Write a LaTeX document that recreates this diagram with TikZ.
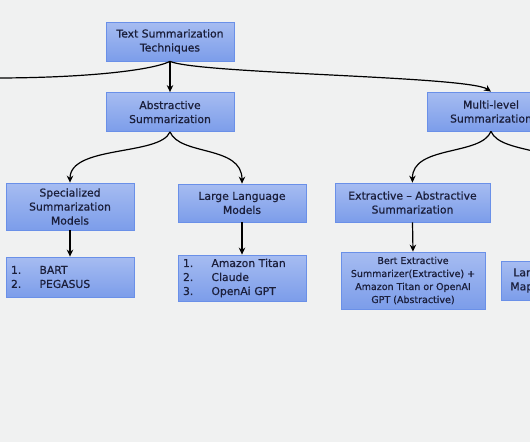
\documentclass[tikz,border=0pt]{standalone}
\usepackage{fontspec}
\setmainfont{DejaVu Sans}[FakeBold=0.7]
\usetikzlibrary{arrows.meta}
\definecolor{bg}{HTML}{F0F1F1}
\definecolor{boxtop}{HTML}{A6BCF1}
\definecolor{boxbot}{HTML}{7C9DEA}
\definecolor{boxline}{HTML}{6A90E8}
\definecolor{txt}{HTML}{1B1F3B}
\tikzset{
  box/.style={draw=boxline, line width=0.8pt, top color=boxtop, bottom color=boxbot,
    text=txt, font=\fontsize{10.8}{14}\selectfont, align=center, inner sep=1pt, anchor=center},
  listbox/.style={box, align=left, inner xsep=5pt},
  arr/.style={-{Stealth[length=7pt,width=6.5pt]}, line width=1.2pt, draw=black}
}
\newcommand{\itm}[2]{\makebox[28.5pt][l]{#1}#2}
\begin{document}
\begin{tikzpicture}[x=1pt,y=-1pt]
\useasboundingbox (0,0) rectangle (530,442);
\fill[bg] (0,0) rectangle (530,442);
\clip (0,0) rectangle (530,442);

\node[box, minimum width=128pt, minimum height=39pt] (root) at (170,41.5) {Text Summarization\\Techniques};
\node[box, minimum width=128pt, minimum height=39pt] (abs) at (170,112) {Abstractive\\Summarization};
\node[box, minimum width=128pt, minimum height=39pt] (multi) at (491,111.5) {Multi-level\\Summarization};
\node[box, minimum width=128pt, minimum height=47pt] (spec) at (70,206.5) {Specialized\\Summarization\\Models};
\node[box, minimum width=128pt, minimum height=38pt] (llm) at (242,203) {Large Language\\Models};
\node[listbox, minimum width=128pt, minimum height=40pt, text width=118pt] (bart) at (70,277) {\itm{1.}{BART}\\\itm{2.}{PEGASUS}};
\node[listbox, minimum width=128pt, minimum height=46pt, text width=118pt] (llmlist) at (242,278) {\itm{1.}{Amazon Titan}\\\itm{2.}{Claude}\\\itm{3.}{OpenAi GPT}};
\node[box, minimum width=155pt, minimum height=39pt] (extabs) at (412.5,202.5) {Extractive – Abstractive\\Summarization};
\node[box, minimum width=144pt, minimum height=57pt, font=\fontsize{9.5}{13}\selectfont] (bert) at (413,280.5) {Bert Extractive\\Summarizer(Extractive) +\\Amazon Titan or OpenAI\\GPT (Abstractive)};
\node[box, minimum width=60pt, minimum height=39pt, text width=56pt, align=left, anchor=west, inner xsep=2pt] (lan) at (501,280.5) {\hspace{10pt}Lan\\\hspace{7pt}Map};

\coordinate (L) at (-10,78);
\coordinate (R) at (575,185);

\draw[arr] (root.south) .. controls (150,71) and (80,78) .. (L);
\draw[arr] (root.south) .. controls (200,74) and (468,76) .. (multi.north);
\draw[arr] (root.south) -- (abs.north);
\draw[arr] (abs.south) .. controls (160,156) and (70,145) .. (spec.north);
\draw[arr] (abs.south) .. controls (180,156) and (242,145) .. (llm.north);
\draw[arr] (multi.south) .. controls (481,156) and (412,145) .. (extabs.north);
\draw[arr] (multi.south) .. controls (501,156) and (575,145) .. (R);
\draw[arr] (spec.south) -- (bart.north);
\draw[arr] (llm.south) -- (llmlist.north);
\draw[arr] (extabs.south) -- (bert.north);
\end{tikzpicture}
\end{document}
